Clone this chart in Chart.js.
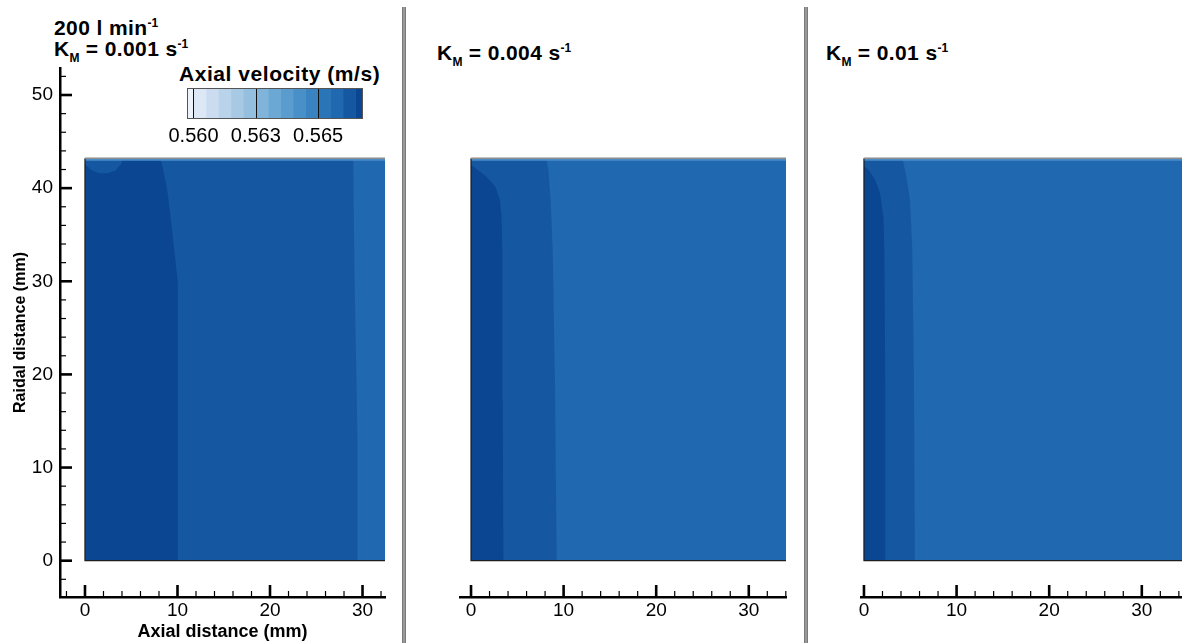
<!DOCTYPE html>
<html>
<head>
<meta charset="utf-8">
<title>Axial velocity contours</title>
<script src="https://cdn.jsdelivr.net/npm/chart.js"></script>
<style>
    body {
        margin: 0;
        background: #fff;
        width: 1182px;
        height: 643px;
        overflow: hidden;
        position: relative;
        font-family: "Liberation Sans", Arial, sans-serif;
    }
    .box { position: absolute; }
    .label {
        position: absolute;
        font-weight: bold;
        font-size: 21px;
        line-height: 20px;
        letter-spacing: 0.4px;
        color: #000;
        white-space: nowrap;
    }
    .label sub, .label sup {
        font-size: 12px;
        line-height: 0;
        letter-spacing: 0;
        position: relative;
        vertical-align: baseline;
    }
    .label sub { top: 6px; }
    .label sup { top: -8px; }
    .divider {
        position: absolute;
        top: 7px;
        width: 4px;
        height: 636px;
        background: linear-gradient(to right, #6c6c6c, #a8a8a8, #6c6c6c);
    }
</style>
</head>
<body>
    <div class="label" style="left:54px; top:18px">200 l min<sup>-1</sup></div>
    <div class="label" style="left:54px; top:39px">K<sub>M</sub> = 0.001 s<sup>-1</sup></div>
    <div class="label" style="left:437px; top:43px">K<sub>M</sub> = 0.004 s<sup>-1</sup></div>
    <div class="label" style="left:826px; top:43px">K<sub>M</sub> = 0.01 s<sup>-1</sup></div>
    <div class="label" style="left:179px; top:64px; letter-spacing:0.55px">Axial velocity (m/s)</div>

    <div class="box" style="left:0; top:0; width:400px; height:643px"><canvas id="panelA"></canvas></div>
    <div class="box" style="left:404px; top:0; width:400px; height:643px"><canvas id="panelB"></canvas></div>
    <div class="box" style="left:806px; top:0; width:376px; height:643px"><canvas id="panelC"></canvas></div>
    <div class="box" style="left:156px; top:88px; width:237px; height:61px"><canvas id="colorBar"></canvas></div>

    <div class="divider" style="left:402px"></div>
    <div class="divider" style="left:804px"></div>

<script>
// velocity levels of the colour bar (m/s) and their fills
const bandEdges = [0.55974, 0.5600, 0.5605, 0.5610, 0.5615, 0.5620, 0.5625, 0.5630,
                   0.5635, 0.5640, 0.5645, 0.5650, 0.5655, 0.5660, 0.5665, 0.5668];
const bandColors = ['#eef3fb', '#dde8f6', '#cbdcf0', '#b9d3ea', '#a7c9e4', '#94bfdf',
                    '#80b4da', '#6ca8d4', '#5a9cce', '#4890c7', '#3883c0', '#2a75b7',
                    '#2068b0', '#1657a2', '#0a4692'];
const barTicks = [0.5600, 0.5625, 0.5650];
const barTickLabels = ['0.560', '0.563', '0.565'];

// axis ticks (mm)
const axialTicks = [0, 10, 20, 30];
const radialTicks = [0, 10, 20, 30, 40, 50];

// pipe section: radius and thin wall layer (mm)
const wallY = 43.2;
const wallLayerY = 42.95;
const sectionEnd = 40;

// K_M = 0.001 s-1 : contour edges (x in mm at radial position y)
const aDarkY = [0, 10, 20, 27.3, 30, 33.4, 36.9, 39, 40.6, 42.0, 42.7, 43.2];
const aDarkX = [10.05, 10.05, 10.05, 10.05, 9.95, 9.65, 9.25, 9.0, 8.75, 8.45, 8.3, 8.0];
const aMidY = [0, 13, 19.4, 26.6, 33.4, 42.7, 43.2];
const aMidX = [29.5, 29.45, 29.35, 29.2, 29.1, 29.0, 29.0];
const aCapX = [0, 0, 0.6, 1.5, 2.5, 3.3, 3.9, 4.1];
const aCapY = [43.2, 42.6, 42.0, 41.6, 41.6, 41.9, 42.6, 43.2];

// K_M = 0.004 s-1
const bDarkY = [0, 17.3, 33.4, 36.9, 38.7, 40.2, 41.2, 42.2, 42.45];
const bDarkX = [3.5, 3.42, 3.38, 3.3, 3.13, 2.6, 1.7, 0.43, 0];
const bMidY = [0, 19.1, 33.4, 38.7, 42.0, 42.7, 43.2];
const bMidX = [9.25, 9.07, 8.82, 8.6, 8.35, 8.24, 8.15];

// K_M = 0.01 s-1
const cDarkY = [0, 19.1, 33.4, 36.9, 39.5, 40.9, 42.0, 42.35];
const cDarkX = [2.35, 2.3, 2.2, 2.1, 1.73, 1.19, 0.47, 0];
const cMidY = [0, 19.1, 33.4, 38.7, 41.2, 42.7, 43.2];
const cMidX = [5.5, 5.4, 5.22, 4.97, 4.6, 4.25, 4.15];

const lightFill = bandColors[12];
const midFill = bandColors[13];
const darkFill = bandColors[14];
const wallFill = '#4a8dc8';

Chart.defaults.font.family = '"Liberation Sans", Arial, sans-serif';
Chart.defaults.color = '#000';

function toPoints(xs, ys) {
    return xs.map((x, i) => ({x: x, y: ys[i]}));
}

// region between the axis (x = 0) and an edge line
function fromAxis(xs, ys) {
    const pts = toPoints(xs, ys);
    pts.unshift({x: 0, y: ys[0]});
    pts.push({x: 0, y: ys[ys.length - 1]});
    return pts;
}

function rect(x0, y0, x1, y1) {
    return [{x: x0, y: y0}, {x: x1, y: y0}, {x: x1, y: y1}, {x: x0, y: y1}];
}

function area(points, color) {
    return {data: points, showLine: true, fill: 'shape', backgroundColor: color,
            borderColor: 'transparent', borderWidth: 0, pointRadius: 0, tension: 0};
}

function outline(points, color, width) {
    return {data: points, showLine: true, fill: false, borderColor: color,
            borderWidth: width, pointRadius: 0, tension: 0};
}

// first dataset ends up on top
function sectionSets(darkX, darkY, midX, midY, extra) {
    return [
        outline([{x: 0, y: wallY}, {x: sectionEnd, y: wallY}], '#8c8c8c', 1.5),
        outline([{x: 0, y: wallY}, {x: 0, y: 0}, {x: sectionEnd, y: 0}], '#1e1e1e', 1.2),
        area(rect(0, wallLayerY, sectionEnd, wallY), wallFill),
        ...extra,
        area(fromAxis(darkX, darkY), darkFill),
        area(fromAxis(midX, midY), midFill),
        area(rect(0, 0, sectionEnd, wallY), lightFill)
    ];
}

// tick marks pointing into the plot, majors every 10 mm, minors every 2 mm
const inwardTicks = {
    id: 'inwardTicks',
    afterDraw(chart) {
        const {ctx, chartArea} = chart;
        ctx.save();
        ctx.strokeStyle = '#000';
        ['x', 'y'].forEach(id => {
            const scale = chart.scales[id];
            if (!scale.options.display) return;
            const horizontal = scale.isHorizontal();
            for (let i = Math.ceil(scale.min / 2); i * 2 <= scale.max; i++) {
                const major = i % 5 === 0;
                const len = major ? 12 : 6;
                const p = scale.getPixelForValue(i * 2);
                ctx.lineWidth = major ? 2.6 : 1.2;
                ctx.beginPath();
                if (horizontal) {
                    ctx.moveTo(p, chartArea.bottom);
                    ctx.lineTo(p, chartArea.bottom - len);
                } else {
                    ctx.moveTo(chartArea.left, p);
                    ctx.lineTo(chartArea.left + len, p);
                }
                ctx.stroke();
            }
        });
        ctx.restore();
    }
};

function panelChart(id, sets, xMin, xMax, showY, pad) {
    return new Chart(document.getElementById(id), {
        type: 'scatter',
        data: {datasets: sets},
        options: {
            animation: false,
            responsive: true,
            maintainAspectRatio: false,
            events: [],
            layout: {padding: pad},
            plugins: {legend: {display: false}, tooltip: {enabled: false}},
            scales: {
                x: {
                    type: 'linear',
                    min: xMin,
                    max: xMax,
                    grid: {display: false, drawTicks: false},
                    border: {display: true, color: '#000', width: 2.5},
                    ticks: {font: {size: 19}, padding: 2, maxRotation: 0,
                            autoSkip: false, callback: v => String(v)},
                    afterBuildTicks: s => { s.ticks = axialTicks.map(v => ({value: v})); },
                    afterFit: s => { s.height = 46; },
                    title: {display: showY, text: 'Axial distance (mm)',
                            font: {size: 18, weight: 'bold'}, padding: {top: 0, bottom: 0}}
                },
                y: {
                    type: 'linear',
                    display: showY,
                    min: -3.9,
                    max: 52.9,
                    grid: {display: false, drawTicks: false},
                    border: {display: true, color: '#000', width: 2.5},
                    ticks: {font: {size: 19}, padding: 7, autoSkip: false, callback: v => String(v)},
                    afterBuildTicks: s => { s.ticks = radialTicks.map(v => ({value: v})); },
                    afterFit: s => { s.width = showY ? 60 : 0; },
                    title: {display: true, text: 'Raidal distance (mm)',
                            font: {size: 16, weight: 'bold'}, padding: {top: 11, bottom: 0}}
                }
            }
        },
        plugins: [inwardTicks]
    });
}

const capSet = area(toPoints(aCapX, aCapY), midFill);

panelChart('panelA', sectionSets(aDarkX, aDarkY, aMidX, aMidY, [capSet]),
           -2.7, 32.43, true, {left: 0, top: 68, right: 15, bottom: 0});
panelChart('panelB', sectionSets(bDarkX, bDarkY, bMidX, bMidY, []),
           -1.19, 34.02, false, {left: 56, top: 68, right: 18, bottom: 0});
panelChart('panelC', sectionSets(cDarkX, cDarkY, cMidX, cMidY, []),
           -0.32, 34.34, false, {left: 55, top: 68, right: 0, bottom: 0});

// frame and labelled level lines on the colour bar
const barFrame = {
    id: 'barFrame',
    afterDatasetsDraw(chart) {
        const {ctx, chartArea} = chart;
        const x = chart.scales.x;
        ctx.save();
        ctx.lineWidth = 1;
        ctx.strokeStyle = '#111';
        barTicks.forEach(v => {
            const p = Math.round(x.getPixelForValue(v)) + 0.5;
            ctx.beginPath();
            ctx.moveTo(p, chartArea.top);
            ctx.lineTo(p, chartArea.bottom);
            ctx.stroke();
        });
        ctx.strokeStyle = '#555';
        ctx.strokeRect(chartArea.left + 0.5, chartArea.top + 0.5,
                       chartArea.width - 1, chartArea.height - 1);
        ctx.restore();
    }
};

new Chart(document.getElementById('colorBar'), {
    type: 'bar',
    data: {
        labels: [''],
        datasets: bandColors.map((c, i) => ({
            data: [[bandEdges[i], bandEdges[i + 1]]],
            backgroundColor: c,
            borderWidth: 0,
            grouped: false,
            barPercentage: 1,
            categoryPercentage: 1
        }))
    },
    options: {
        indexAxis: 'y',
        animation: false,
        responsive: true,
        maintainAspectRatio: false,
        events: [],
        layout: {padding: {left: 31, right: 30, top: 0, bottom: 0}},
        plugins: {legend: {display: false}, tooltip: {enabled: false}},
        scales: {
            y: {display: false},
            x: {
                type: 'linear',
                stacked: false,
                min: bandEdges[0],
                max: bandEdges[bandEdges.length - 1],
                grid: {display: false, drawTicks: false},
                border: {display: false},
                ticks: {font: {size: 20}, padding: 5, maxRotation: 0, autoSkip: false,
                        callback: (v, i) => barTickLabels[i]},
                afterBuildTicks: s => { s.ticks = barTicks.map(v => ({value: v})); },
                afterFit: s => { s.height = 30; }
            }
        }
    },
    plugins: [barFrame]
});
</script>
</body>
</html>
